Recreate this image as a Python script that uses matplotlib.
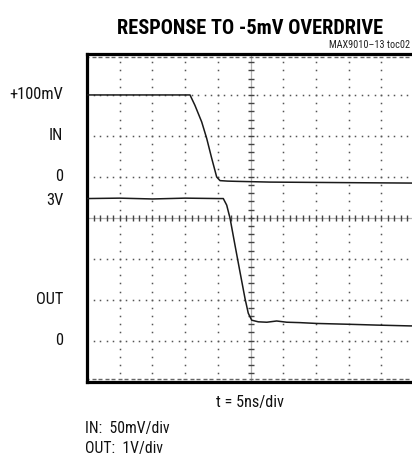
import numpy as np
import matplotlib
matplotlib.use('Agg')
import matplotlib.pyplot as plt
from matplotlib import font_manager

# scope settings
T_PER_DIV = 5.0       # ns/div
IN_PER_DIV = 50.0     # mV/div
OUT_PER_DIV = 1.0     # V/div
IN_ZERO_DIV = 5.0
OUT_ZERO_DIV = 1.0

# traces
in_t = [0.0, 10.0, 15.75, 16.5, 17.54, 18.3, 19.07, 19.83, 20.34, 21.5, 22.9,
        28.0, 35.0, 42.0, 49.7, 50.0]
in_mv = [100.0, 100.0, 100.0, 87.4, 67.0, 47.0, 22.6, -0.2, -4.6, -5.2, -5.5,
         -6.4, -6.8, -7.2, -7.6, -7.6]

out_t = [0.0, 5.0, 10.0, 15.0, 20.0, 20.84, 21.36, 21.87, 22.63, 23.39, 24.16,
         24.66, 25.18, 26.19, 27.5, 29.0, 30.54, 32.57, 35.12, 40.0, 44.3, 49.39, 50.0]
out_v = [3.47, 3.48, 3.46, 3.48, 3.47, 3.47, 3.31, 2.99, 2.33, 1.68, 1.03,
         0.67, 0.50, 0.46, 0.45, 0.48, 0.45, 0.44, 0.42, 0.40, 0.38, 0.36, 0.36]

left_labels = ['+100mV', 'IN', '0', '3V', 'OUT', '0']
left_label_divs = [7.0, 6.0, 5.0, 4.43, 2.0, 1.0]


def pick_font(names):
    have = {f.name for f in font_manager.fontManager.ttflist}
    fams = [n for n in names if n in have]
    return fams + ['DejaVu Sans']


narrow = pick_font(['Roboto Condensed', 'Liberation Sans Narrow', 'Roboto'])
plt.rcParams['font.family'] = narrow

fig = plt.figure(figsize=(4.12, 4.57), dpi=100)
ax = fig.add_axes([87 / 412, 75.4 / 457, 327 / 412, 327.6 / 457])
ax.set_xlim(0, 10)
ax.set_ylim(0, 8)

# graticule: dotted lines at every division, dots every 0.2 div
fine_x = np.arange(0, 10.001, 0.2)
fine_y = np.arange(0, 8.001, 0.2)
for gy in range(1, 8):
    if gy == 4:
        continue
    ax.plot(fine_x, np.full_like(fine_x, gy), ls='none', marker='s', ms=1.1,
            mec='none', mfc='#555555', zorder=1)
for gx in range(1, 10):
    if gx == 5:
        continue
    ax.plot(np.full_like(fine_y, gx), fine_y, ls='none', marker='s', ms=1.1,
            mec='none', mfc='#555555', zorder=1)

# centre axes with tick marks
ax.axhline(4, color='#b0b0b0', lw=0.9, zorder=1)
ax.axvline(5, color='#b0b0b0', lw=0.9, zorder=1)
ax.plot(fine_x, np.full_like(fine_x, 4), ls='none', marker='|', ms=4.5,
        mew=1.0, color='#444444', zorder=1)
ax.plot(np.full_like(fine_y, 5), fine_y, ls='none', marker='_', ms=4.5,
        mew=1.0, color='#444444', zorder=1)
# top / bottom edge ticks
ax.plot(fine_x, np.full_like(fine_x, 7.93), ls='none', marker='_', ms=2.5,
        mew=1.0, color='#666666', zorder=1)
ax.plot(fine_x, np.full_like(fine_x, 0.07), ls='none', marker='_', ms=2.5,
        mew=1.0, color='#666666', zorder=1)

# traces
in_x = np.array(in_t) / T_PER_DIV
in_y = np.array(in_mv) / IN_PER_DIV + IN_ZERO_DIV
out_x = np.array(out_t) / T_PER_DIV
out_y = np.array(out_v) / OUT_PER_DIV + OUT_ZERO_DIV
ax.plot(in_x, in_y, color='#1a1a1a', lw=1.1, zorder=3)
ax.plot(out_x, out_y, color='#1a1a1a', lw=1.1, zorder=3)

ax.set_xticks([])
ax.set_yticks([])
for side in ['left', 'top', 'bottom', 'right']:
    ax.spines[side].set_linewidth(2.3)
    ax.spines[side].set_color('black')

ytrans = ax.get_yaxis_transform()
for lab, dv in zip(left_labels, left_label_divs):
    ax.text(-0.073, dv, lab, transform=ytrans, ha='right', va='center',
            fontsize=11.8, color='#111111')

fig.text(250 / 412, 1 - 28 / 457, 'RESPONSE TO -5mV OVERDRIVE', ha='center',
         va='center', fontsize=14.7, fontweight='heavy', color='black')
fig.text(410 / 412, 1 - 45 / 457, 'MAX9010\u201313 toc02', ha='right',
         va='center', fontsize=7.4, color='#222222')
fig.text(250 / 412, 1 - 402 / 457, 't = 5ns/div', ha='center', va='center',
         fontsize=11.7, color='#111111')
fig.text(85 / 412, 1 - 428 / 457, 'IN:  50mV/div', ha='left', va='center',
         fontsize=11.3, color='#111111')
fig.text(85 / 412, 1 - 448 / 457, 'OUT:  1V/div', ha='left', va='center',
         fontsize=11.3, color='#111111')

fig.savefig('out.png', dpi=100)
